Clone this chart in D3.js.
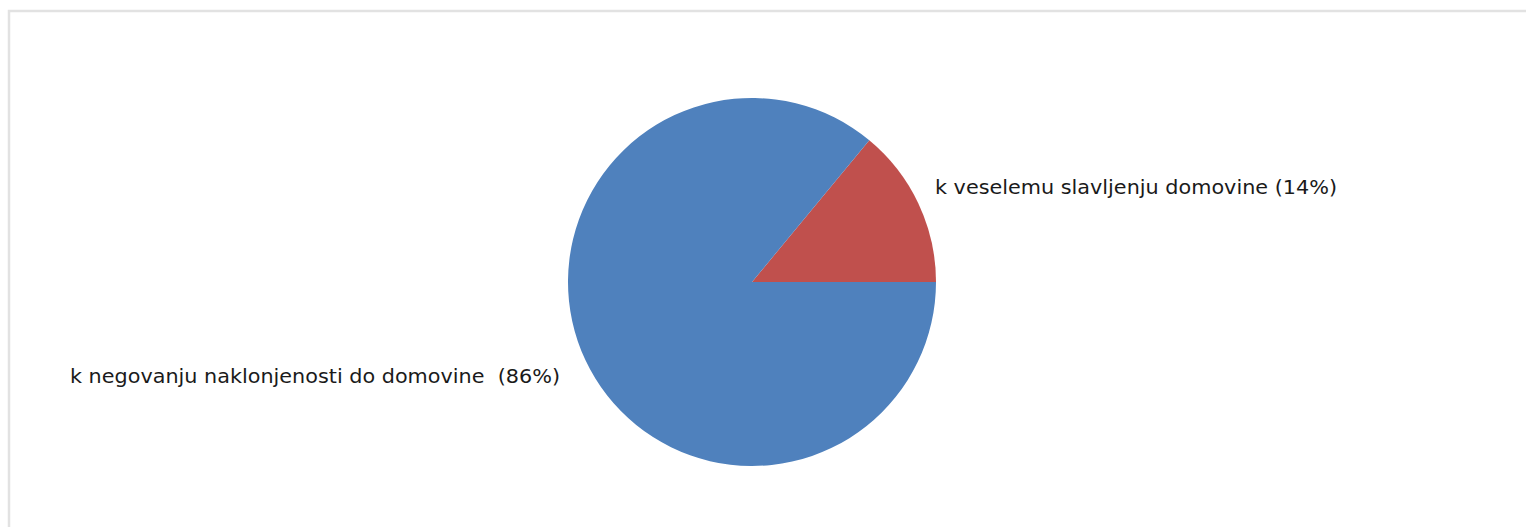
<!DOCTYPE html>
<html>
<head>
<meta charset="utf-8">
<script src="https://cdn.jsdelivr.net/npm/d3@7"></script>
<style>
  html, body { margin: 0; padding: 0; background: #fff; }
  svg { display: block; }
</style>
</head>
<body>
<svg id="chart" width="1526" height="527"></svg>
<script>
const categories = ["k veselemu slavljenju domovine", "k negovanju naklonjenosti do domovine "];
const values = [14, 86];
const percentLabels = ["14%", "86%"];
const colors = ["#C0504D", "#4F81BD"];

const svg = d3.select("#chart");
const W = 1526, H = 527;

// frame
svg.append("rect")
  .attr("x", 9).attr("y", 11)
  .attr("width", W + 20).attr("height", H + 20)
  .attr("fill", "#fff")
  .attr("stroke", "#e2e2e2")
  .attr("stroke-width", 2.5);

const cx = 752, cy = 282, r = 184;
const total = d3.sum(values);
const start = Math.PI / 2 - 2 * Math.PI * values[0] / total;

const pie = d3.pie().sort(null).value(d => d)
  .startAngle(start).endAngle(start + 2 * Math.PI);
const arcs = pie(values);
const arc = d3.arc().innerRadius(0).outerRadius(r);

const g = svg.append("g").attr("transform", `translate(${cx},${cy})`);
g.selectAll("path").data(arcs).enter().append("path")
  .attr("d", arc)
  .attr("fill", (d, i) => colors[i]);

// labels
const labelSpec = [
  { x: 935, y: 194, anchor: "start", len: 402 },
  { x: 560, y: 383, anchor: "end", len: 490 }
];
categories.forEach((c, i) => {
  const s = labelSpec[i];
  const t = svg.append("text")
    .attr("x", s.x).attr("y", s.y)
    .attr("text-anchor", s.anchor)
    .attr("font-family", "DejaVu Sans, Verdana, sans-serif")
    .attr("font-size", 19)
    .attr("fill", "#1a1a1a")
    .attr("xml:space", "preserve")
    .style("white-space", "pre")
    .text(`${c} (${percentLabels[i]})`);
  t.attr("textLength", s.len).attr("lengthAdjust", "spacingAndGlyphs");
});
</script>
</body>
</html>
